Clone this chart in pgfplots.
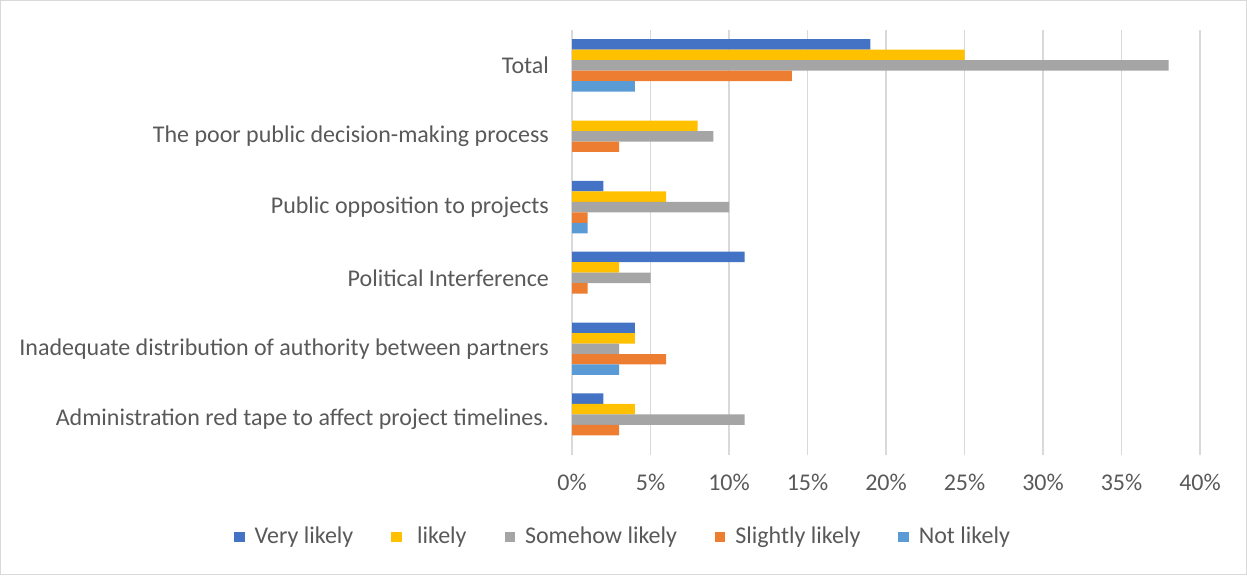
\documentclass[border=0pt]{standalone}
\usepackage{pgfplots}
\pgfplotsset{compat=1.18}
\usepackage{fontspec}
\setmainfont{Carlito}
\definecolor{cA}{HTML}{4472C4}
\definecolor{cB}{HTML}{FFC000}
\definecolor{cC}{HTML}{A5A5A5}
\definecolor{cD}{HTML}{ED7D31}
\definecolor{cE}{HTML}{5B9BD5}
\definecolor{txt}{HTML}{595959}
\definecolor{gridc}{HTML}{D9D9D9}
\begin{document}
\begin{tikzpicture}
\path[use as bounding box, draw=gridc, line width=0.5pt] (0.25pt,0.25pt) rectangle (623.25pt,287.25pt);
\begin{axis}[
  at={(286pt,60pt)}, anchor=south west,
  scale only axis, width=314pt, height=212.5pt,
  xbar=0pt, bar width=0.148,
  xmin=0, xmax=40, ymin=-0.5, ymax=5.5, y dir=reverse,
  ytick={0,1,2,3,4,5},
  yticklabels={Total, The poor public decision-making process, Public opposition to projects, Political Interference, Inadequate distribution of authority between partners, Administration red tape to affect project timelines.},
  xtick={0,5,...,40},
  xticklabel={\pgfmathprintnumber{\tick}\%},
  /pgf/number format/assume math mode=true,
  xmajorgrids, grid style={gridc, line width=0.75pt},
  axis line style={draw=none},
  major tick length=0pt,
  tick label style={font=\fontsize{12}{14}\selectfont, text=txt},
  yticklabel style={xshift=-8pt},
  xticklabel style={yshift=-6pt},
  legend columns=-1,
  legend style={at={(0.083,-0.193)}, anchor=center, draw=none, fill=none,
    font=\fontsize{12}{14}\selectfont, text=txt,
    /tikz/every odd column/.append style={column sep=3pt},
    /tikz/every even column/.append style={column sep=17pt}},
  legend image code/.code={\fill[#1] (0pt,-2.6pt) rectangle (5.2pt,2.6pt);},
]
\addplot[fill=cA, draw=none] coordinates {(19,0) (2,2) (11,3) (4,4) (2,5)};
\addplot[fill=cB, draw=none] coordinates {(25,0) (8,1) (6,2) (3,3) (4,4) (4,5)};
\addplot[fill=cC, draw=none] coordinates {(38,0) (9,1) (10,2) (5,3) (3,4) (11,5)};
\addplot[fill=cD, draw=none] coordinates {(14,0) (3,1) (1,2) (1,3) (6,4) (3,5)};
\addplot[fill=cE, draw=none] coordinates {(4,0) (1,2) (3,4)};
\legend{Very likely, \ likely, Somehow likely, Slightly likely, Not likely}
\end{axis}
\end{tikzpicture}
\end{document}
